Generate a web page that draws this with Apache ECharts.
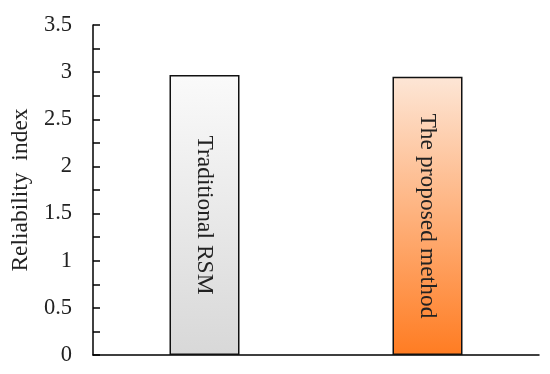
<!DOCTYPE html>
<html>
<head>
<meta charset="utf-8">
<script src="https://cdn.jsdelivr.net/npm/echarts@6/dist/echarts.min.js"></script>
<style>html,body{margin:0;padding:0;background:#fff;}#c{width:550px;height:374px;}</style>
</head>
<body>
<div id="c"></div>
<script>
var categories = ['Traditional RSM', 'The proposed method'];
var values = [2.97, 2.95];
var yTicks = [0, 0.5, 1, 1.5, 2, 2.5, 3, 3.5];
var yName = 'Reliability  index';

var gradients = [
  new echarts.graphic.LinearGradient(0, 0, 0, 1, [{offset: 0, color: '#fafafa'}, {offset: 1, color: '#d8d8d8'}]),
  new echarts.graphic.LinearGradient(0, 0, 0, 1, [{offset: 0, color: '#fde6d6'}, {offset: 1, color: '#ff7c22'}])
];

var chart = echarts.init(document.getElementById('c'));
var font = 'Liberation Serif, Times New Roman, serif';
chart.setOption({
  animation: false,
  backgroundColor: '#fff',
  grid: {left: 93, right: 11, top: 25, bottom: 19},
  xAxis: {
    type: 'category',
    data: categories,
    axisLine: {lineStyle: {color: '#000', width: 1.5}},
    axisTick: {show: false},
    axisLabel: {show: false}
  },
  yAxis: {
    type: 'value',
    min: yTicks[0],
    max: yTicks[yTicks.length - 1],
    interval: 0.5,
    name: yName,
    nameLocation: 'middle',
    nameGap: 56,
    nameTextStyle: {fontFamily: font, fontSize: 23.5, color: '#222'},
    axisLine: {show: true, lineStyle: {color: '#000', width: 1.5}},
    axisTick: {show: true, inside: true, length: 7, lineStyle: {color: '#000', width: 1.5}},
    minorTick: {show: true, splitNumber: 2, length: 7, lineStyle: {color: '#000', width: 1.5}},
    splitLine: {show: false},
    axisLabel: {fontFamily: font, fontSize: 22.5, color: '#222', margin: 21}
  },
  series: [{
    type: 'bar',
    barWidth: 70,
    data: values.map(function (v, i) {
      return {value: v, itemStyle: {color: gradients[i]}};
    }),
    itemStyle: {borderColor: '#111', borderWidth: 1.5},
    label: {
      show: true,
      position: 'inside',
      rotate: -90,
      formatter: '{b}',
      fontFamily: font,
      fontSize: 23.5,
      color: '#222'
    }
  }]
});
</script>
</body>
</html>
